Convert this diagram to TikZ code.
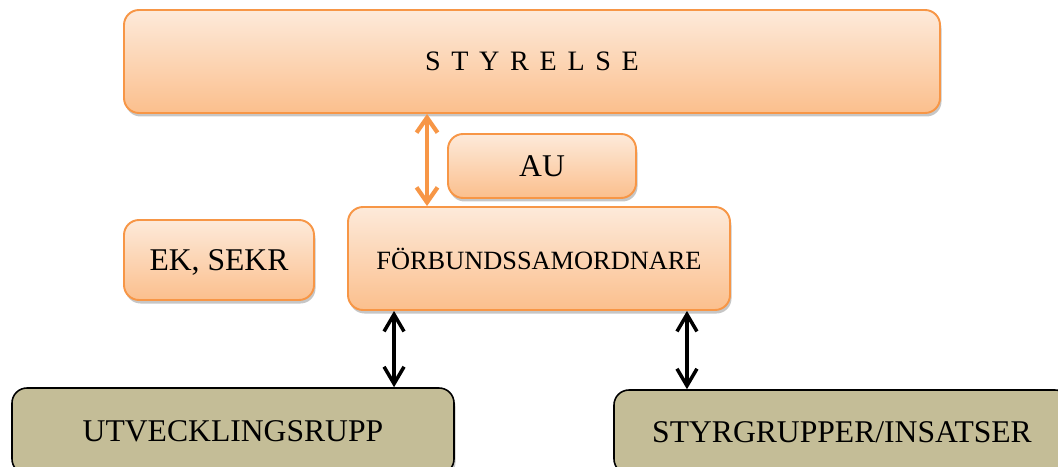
\documentclass[tikz,border=0pt]{standalone}
\usepackage{fontspec}
\setmainfont{Liberation Serif}
\usetikzlibrary{arrows.meta,shadows}
\definecolor{orangeline}{RGB}{247,150,70}
\definecolor{orangetop}{RGB}{253,234,218}
\definecolor{orangebot}{RGB}{251,191,141}
\definecolor{khakifill}{RGB}{196,189,151}

\begin{document}
\begin{tikzpicture}[
  orangebox/.style={draw=orangeline, line width=1.1pt, rounded corners=0.3cm,
    top color=orangetop, bottom color=orangebot, inner sep=0pt, text depth=0pt,
    drop shadow={shadow xshift=0.03cm, shadow yshift=-0.07cm, opacity=0.45}},
  khakibox/.style={draw=black, line width=0.9pt, rounded corners=0.3cm,
    fill=khakifill, inner sep=0pt, text depth=0pt,
    drop shadow={shadow xshift=0.03cm, shadow yshift=-0.07cm, opacity=0.45}},
  orangelink/.style={orangeline, line width=2.4pt,
    {Straight Barb[length=0.3cm, width=0.42cm]}-{Straight Barb[length=0.3cm, width=0.42cm]}},
  blacklink/.style={black, line width=2pt,
    {Straight Barb[length=0.34cm, width=0.4cm]}-{Straight Barb[length=0.34cm, width=0.4cm]}}
]
\clip (0,0) rectangle (21.16,9.32);
\useasboundingbox (0,0) rectangle (21.16,9.32);

% top row
\node [orangebox, minimum width=16.32cm, minimum height=2.06cm] (styrelse) at (10.64,8.09)
  {\fontsize{16}{19}\selectfont\addfontfeature{LetterSpace=38}STYRELSE};
\node [orangebox, minimum width=3.76cm, minimum height=1.28cm] (au) at (10.84,6.00)
  {\fontsize{18}{21}\selectfont AU};

% middle row
\node [orangebox, minimum width=3.8cm, minimum height=1.6cm] (eksekr) at (4.38,4.12)
  {\fontsize{18}{21}\selectfont EK, SEKR};
\node [orangebox, minimum width=7.64cm, minimum height=2.06cm] (samordnare) at (10.78,4.15)
  {\fontsize{15}{18}\selectfont FÖRBUNDSSAMORDNARE};

% bottom row
\node [khakibox, minimum width=8.84cm, minimum height=1.72cm] (utveckling) at (4.66,0.70)
  {\fontsize{18}{21}\selectfont UTVECKLINGSRUPP};
\node [khakibox, minimum width=9.12cm, minimum height=1.68cm] (styrgrupper) at (16.84,0.68)
  {\fontsize{18}{21}\selectfont STYRGRUPPER/INSATSER};

% links
\draw [orangelink] ([xshift=1.6cm]samordnare.north west |- styrelse.south)
  -- ([xshift=1.6cm]samordnare.north west);
\draw [blacklink] ([xshift=0.94cm]samordnare.south west)
  -- ([xshift=0.94cm]samordnare.south west |- utveckling.north);
\draw [blacklink] ([xshift=-0.88cm]samordnare.south east)
  -- ([xshift=-0.88cm]samordnare.south east |- styrgrupper.north);
\end{tikzpicture}
\end{document}
